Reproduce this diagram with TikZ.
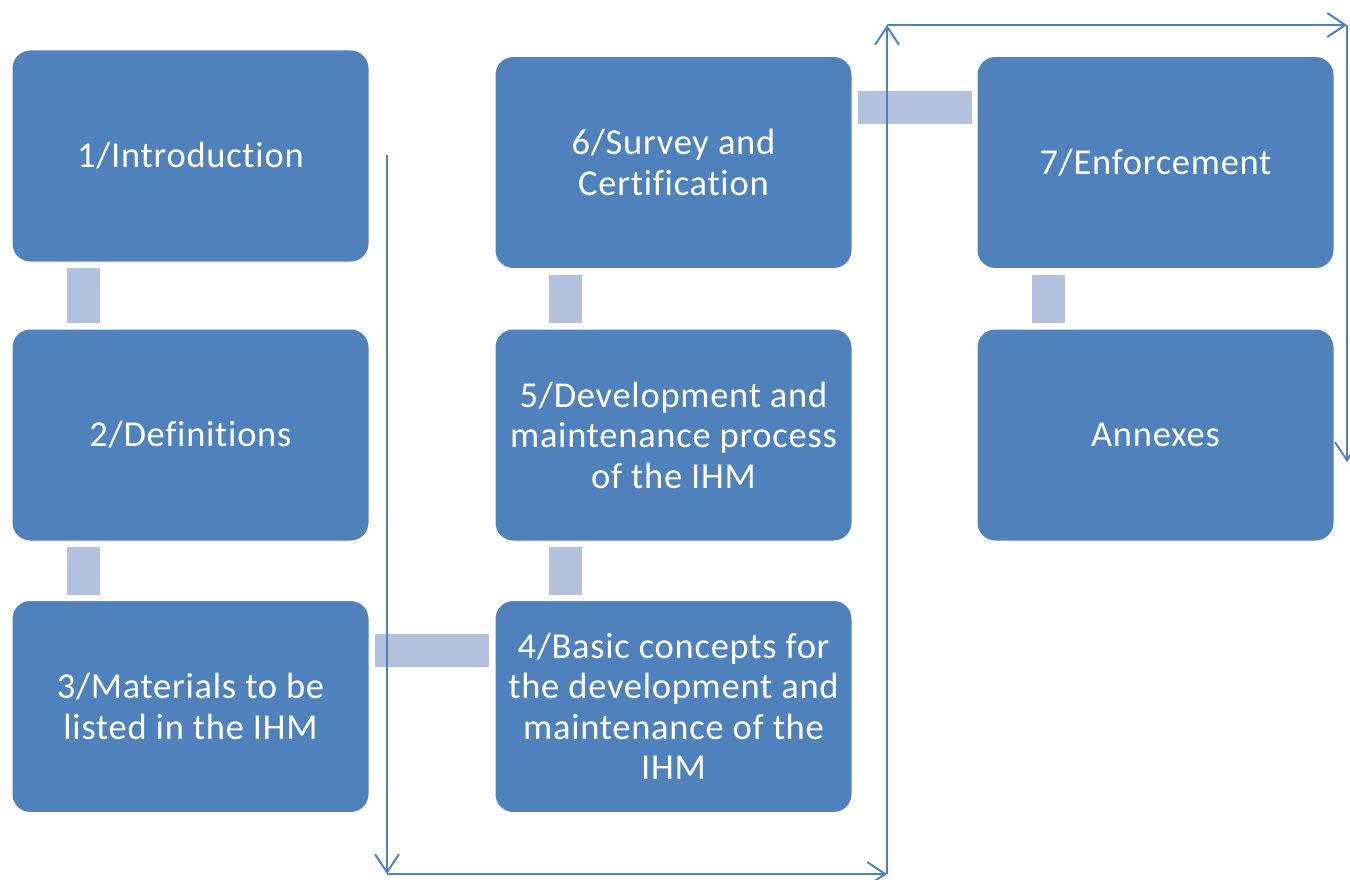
\documentclass[tikz,border=0pt]{standalone}
\usepackage{fontspec}
\setmainfont{Carlito}[Ligatures=NoCommon, LetterSpace=2]
\usetikzlibrary{arrows.meta}
\definecolor{boxblue}{HTML}{4F81BD}
\definecolor{linkblue}{HTML}{B3C2DE}
\tikzset{
  box/.style={draw=white, line width=1pt, fill=boxblue, rounded corners=18pt,
    minimum width=357pt, minimum height=212pt, inner sep=0pt, text=white,
    align=center, font=\fontsize{36.5}{40.5}\selectfont},
  link/.style={fill=linkblue, draw=none, inner sep=0pt},
  flow/.style={draw=boxblue, line width=2pt, -{Straight Barb[length=18pt,width=24pt,line width=2pt]}}
}
\begin{document}
\begin{tikzpicture}[x=1pt,y=-1pt]
\useasboundingbox (0,0) rectangle (1350,880);
% boxes
\node[box] (b1) at (190.5,156) {1/Introduction};
\node[box] (b2) at (190.5,435) {2/Definitions};
\node[box] (b3) at (190.5,706.5) {3/Materials to be\\listed in the IHM};
\node[box] (b4) at (673.5,706.5) {4/Basic concepts for\\the development and\\maintenance of the\\IHM};
\node[box] (b5) at (673.5,435) {5/Development and\\maintenance process\\of the IHM};
\node[box] (b6) at (673.5,162.5) {6/Survey and\\Certification};
\node[box] (b7) at (1155.5,162.5) {7/Enforcement};
\node[box] (b8) at (1155.5,435) {Annexes};
% link bars
\node[link, minimum width=33pt, minimum height=55pt] (l12) at (83.5,295.5) {};
\node[link, minimum width=33pt, minimum height=48pt] (l23) at (83.5,571) {};
\node[link, minimum width=114pt, minimum height=33pt] (l34) at (432,650.5) {};
\node[link, minimum width=33pt, minimum height=48pt] (l45) at (565.5,571) {};
\node[link, minimum width=33pt, minimum height=48pt] (l56) at (565.5,299) {};
\node[link, minimum width=114pt, minimum height=33pt] (l67) at (915,107.5) {};
\node[link, minimum width=33pt, minimum height=48pt] (l78) at (1048.5,299) {};
% flow lines
\coordinate (p0) at (387,155);
\coordinate (p1) at (387,874);
\coordinate (p2) at (887,874);
\coordinate (p3) at (887,25);
\coordinate (p4) at (1347,25);
\coordinate (p5) at (1347,462);
\draw[flow] (p0) -- (p1);
\draw[flow] (p1) -- (p2);
\draw[flow] (p2) -- (p3);
\draw[flow] (p3) -- (p4);
\draw[flow] (p4) -- (p5);
\end{tikzpicture}
\end{document}
